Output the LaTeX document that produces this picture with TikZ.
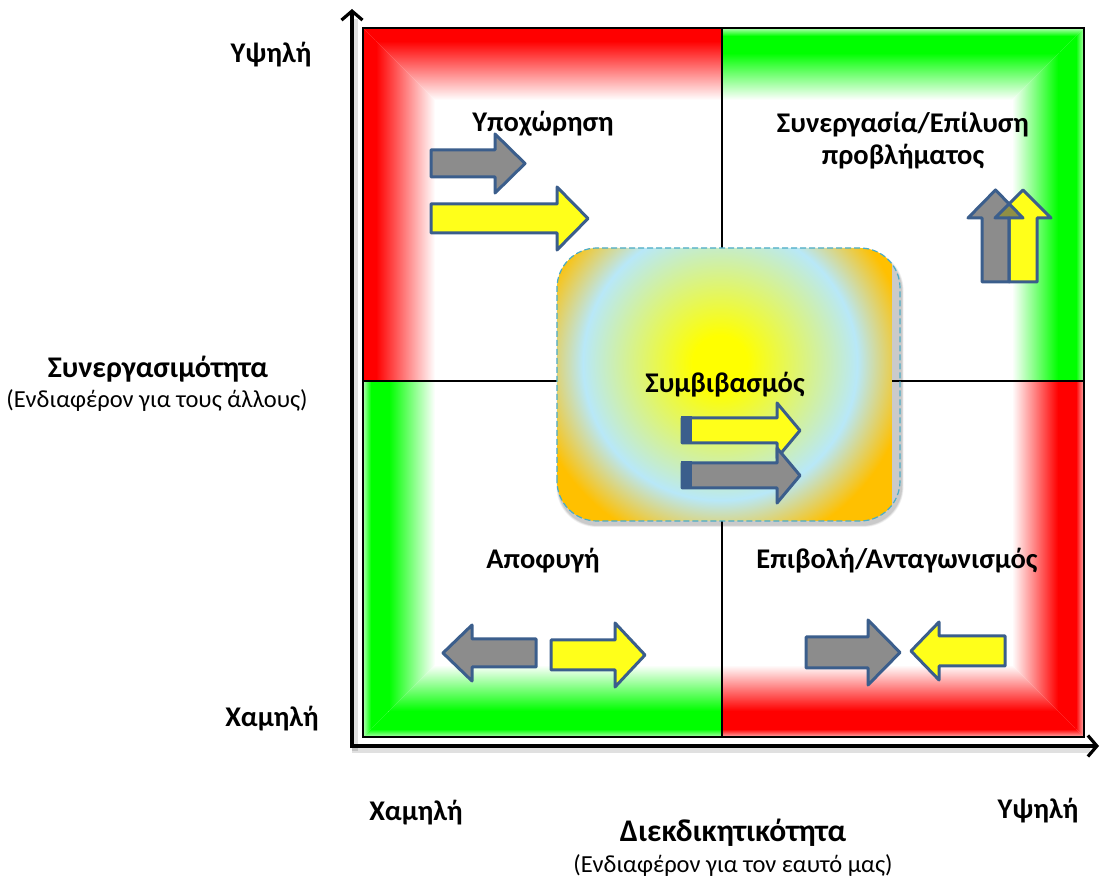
\documentclass[tikz,border=0pt]{standalone}
\usepackage{fontspec}
\setmainfont{Carlito}
\usetikzlibrary{arrows.meta}

\definecolor{edgeblue}{HTML}{3B5E8C}
\definecolor{arrowgray}{HTML}{8C8C8C}
\definecolor{arrowyellow}{HTML}{FFFF1A}
\definecolor{brightgreen}{HTML}{00FF00}
\definecolor{brightred}{HTML}{FF0000}
\definecolor{coreyellow}{HTML}{FFFF00}
\definecolor{ringblue}{HTML}{B8E8F8}
\definecolor{rimorange}{HTML}{FFC000}
\definecolor{dashblue}{HTML}{4BACC6}
\definecolor{overlapolive}{HTML}{8F8F45}

% radial fill of the central "compromise" panel (25bp = 171.5 units)
\pgfdeclareradialshading{compromise}{\pgfpoint{0bp}{0bp}}{%
  color(0bp)=(coreyellow); color(4bp)=(coreyellow);
  color(20bp)=(ringblue); color(27.5bp)=(rimorange); color(50bp)=(rimorange)}

\tikzset{
  blockarrow/.style={draw=edgeblue, line width=3pt, line join=round},
  grayarrow/.style={blockarrow, fill=arrowgray},
  yellowarrow/.style={blockarrow, fill=arrowyellow},
  boldlabel/.style={font=\fontsize{28.5}{33}\selectfont\bfseries, anchor=base, inner sep=0pt},
  axistitle/.style={font=\fontsize{30}{35}\selectfont\bfseries, anchor=base, inner sep=0pt},
  axisnote/.style={font=\fontsize{24.5}{29}\selectfont, anchor=base, inner sep=0pt},
  axisline/.style={line width=3.2pt, -{Straight Barb[length=9pt,width=21pt,line width=3.2pt]}},
  axisshadow/.style={line width=6pt, draw=black, opacity=0.12},
  panel/.style={rounded corners=40pt},
}

\begin{document}
\begin{tikzpicture}[x=1pt,y=1pt]
\useasboundingbox (0,0) rectangle (1101,879);
\fill[white] (0,0) rectangle (1101,879);

% ---------- top-left quadrant: red frame on top and left ----------
\begin{scope}
  \clip (363,851) -- (722,851) -- (722,779) -- (435,779) -- cycle;
  \fill[brightred] (363,851) rectangle (722,838);
  \shade[top color=brightred, bottom color=white] (363,838) rectangle (722,779);
\end{scope}
\begin{scope}
  \clip (363,851) -- (435,779) -- (435,498) -- (363,498) -- cycle;
  \fill[brightred] (363,851) rectangle (376,498);
  \shade[left color=brightred, right color=white] (376,851) rectangle (435,498);
\end{scope}

% ---------- top-right quadrant: green frame on top and right ----------
\begin{scope}
  \clip (722,851) -- (1084,851) -- (1012,779) -- (722,779) -- cycle;
  \shade[top color=brightgreen!30, bottom color=brightgreen] (722,851) rectangle (1084,843);
  \fill[brightgreen] (722,843) rectangle (1084,826);
  \shade[top color=brightgreen, bottom color=white] (722,826) rectangle (1084,779);
\end{scope}
\begin{scope}
  \clip (1084,851) -- (1084,498) -- (1012,498) -- (1012,779) -- cycle;
  \shade[right color=brightgreen!30, left color=brightgreen] (1076,851) rectangle (1084,498);
  \fill[brightgreen] (1058,851) rectangle (1076,498);
  \shade[left color=white, right color=brightgreen] (1012,851) rectangle (1058,498);
\end{scope}

% ---------- bottom-left quadrant: green frame on left and bottom ----------
\begin{scope}
  \clip (363,498) -- (435,498) -- (435,214) -- (363,142) -- cycle;
  \shade[left color=brightgreen!30, right color=brightgreen] (363,498) rectangle (371,142);
  \fill[brightgreen] (371,498) rectangle (389,142);
  \shade[left color=brightgreen, right color=white] (389,498) rectangle (435,142);
\end{scope}
\begin{scope}
  \clip (363,142) -- (722,142) -- (722,214) -- (435,214) -- cycle;
  \shade[bottom color=brightgreen!30, top color=brightgreen] (363,142) rectangle (722,150);
  \fill[brightgreen] (363,150) rectangle (722,168);
  \shade[bottom color=brightgreen, top color=white] (363,168) rectangle (722,214);
\end{scope}

% ---------- bottom-right quadrant: red frame on right and bottom ----------
\begin{scope}
  \clip (1084,498) -- (1084,142) -- (1012,214) -- (1012,498) -- cycle;
  \shade[right color=brightred!30, left color=brightred] (1076,498) rectangle (1084,142);
  \fill[brightred] (1058,498) rectangle (1076,142);
  \shade[left color=white, right color=brightred] (1012,498) rectangle (1058,142);
\end{scope}
\begin{scope}
  \clip (722,142) -- (1084,142) -- (1012,214) -- (722,214) -- cycle;
  \shade[bottom color=brightred!30, top color=brightred] (722,142) rectangle (1084,150);
  \fill[brightred] (722,150) rectangle (1084,168);
  \shade[bottom color=brightred, top color=white] (722,168) rectangle (1084,214);
\end{scope}

% ---------- grid lines ----------
\draw[line width=1.6pt] (363,142) rectangle (1084,851);
\draw[line width=1.3pt] (722,142) -- (722,851);
\draw[line width=1.3pt] (363,498) -- (1084,498);

% ---------- axes ----------
\coordinate (origin) at (352,133);
\coordinate (ytip) at (352,870);
\coordinate (xtip) at (1099,133);
\draw[axisshadow] (355,128) -- (355,860);
\draw[axisshadow] (352,129) -- (1090,129);
\draw[axisline] (352,131) -- (ytip);
\draw[axisline] (350,133) -- (xtip);

% ---------- block arrows in the quadrants ----------
% withdrawing
\draw[grayarrow] (431,729) -- (495,729) -- (495,745) -- (525,715.5) -- (495,686) -- (495,702) -- (431,702) -- cycle;
\draw[yellowarrow] (431,675) -- (557,675) -- (557,692) -- (588,660.5) -- (557,629) -- (557,646) -- (431,646) -- cycle;

% collaborating
\fill[arrowgray] (982,597) -- (982,661) -- (968,661) -- (995.5,689) -- (1023,661) -- (1009,661) -- (1009,597) -- cycle;
\fill[arrowyellow] (1009,597) -- (1009,661) -- (995,661) -- (1023,689) -- (1051,661) -- (1037,661) -- (1037,597) -- cycle;
\begin{scope}
  \clip (982,597) -- (982,661) -- (968,661) -- (995.5,689) -- (1023,661) -- (1009,661) -- (1009,597) -- cycle;
  \fill[overlapolive] (1009,597) -- (1009,661) -- (995,661) -- (1023,689) -- (1051,661) -- (1037,661) -- (1037,597) -- cycle;
\end{scope}
\draw[blockarrow] (982,597) -- (982,661) -- (968,661) -- (995.5,689) -- (1023,661) -- (1009,661) -- (1009,597) -- cycle;
\draw[blockarrow] (1009,597) -- (1009,661) -- (995,661) -- (1023,689) -- (1051,661) -- (1037,661) -- (1037,597) -- cycle;

% avoiding
\draw[grayarrow] (536,240) -- (472,240) -- (472,254) -- (443,226) -- (472,198) -- (472,212) -- (536,212) -- cycle;
\draw[yellowarrow] (551,239) -- (615,239) -- (615,256) -- (645,224) -- (615,192) -- (615,209) -- (551,209) -- cycle;

% competing
\draw[grayarrow] (806,242) -- (868,242) -- (868,259) -- (900,226.5) -- (868,194) -- (868,211) -- (806,211) -- cycle;
\draw[yellowarrow] (1005,243) -- (939,243) -- (939,257) -- (911,228) -- (939,199) -- (939,213) -- (1005,213) -- cycle;

% ---------- central compromise panel ----------
% soft shadow under the panel
\foreach \s/\o in {7/0.04, 5.5/0.05, 4/0.06, 2.5/0.07}{
  \fill[black, opacity=\o, panel] (557+1.5-\s*0.3,358-4-\s*0.3) rectangle (900+1.5+\s*0.3,631-4+\s*0.3);
}
\begin{scope}
  \clip[panel] (557,358) rectangle (900,631);
  \shade[shading=compromise] (548.5,344.5) rectangle (891.5,687.5);
\end{scope}
\draw[dashblue, line width=1.2pt, dash pattern=on 6pt off 3pt, panel]
  (557,358) rectangle (900,631);

\draw[yellowarrow] (682,461) -- (777,461) -- (777,476) -- (800,448.5) -- (777,421) -- (777,436) -- (682,436) -- cycle;
\fill[edgeblue] (681,462.5) rectangle (692,434.5);
\draw[grayarrow] (682,416) -- (777,416) -- (777,431) -- (800,403.5) -- (777,376) -- (777,391) -- (682,391) -- cycle;
\fill[edgeblue] (681,417.5) rectangle (692,389.5);

% ---------- labels ----------
\node[boldlabel] (yhigh) at (271,816) {Υψηλή};
\node[boldlabel] (ylow) at (272,153) {Χαμηλή};
\node[boldlabel] (xlow) at (416,59) {Χαμηλή};
\node[boldlabel] (xhigh) at (1038,61) {Υψηλή};
\node[axistitle] (ytitle) at (158,501) {Συνεργασιμότητα};
\node[axisnote] (ynote) at (157,471) {(Ενδιαφέρον για τους άλλους)};
\node[axistitle, font=\fontsize{31.5}{36}\selectfont\bfseries] (xtitle) at (733,38) {Διεκδικητικότητα};
\node[axisnote] (xnote) at (733,7) {(Ενδιαφέρον για τον εαυτό μας)};

\node[boldlabel] (withdraw) at (543,747) {Υποχώρηση};
\node[boldlabel] (collab1) at (903,746) {Συνεργασία/Επίλυση};
\node[boldlabel] (collab2) at (903,714) {προβλήματος};
\node[boldlabel] (compromise) at (725,486) {Συμβιβασμός};
\node[boldlabel] (avoid) at (543,310) {Αποφυγή};
\node[boldlabel] (compete) at (897,310) {Επιβολή/Ανταγωνισμός};
\end{tikzpicture}
\end{document}
